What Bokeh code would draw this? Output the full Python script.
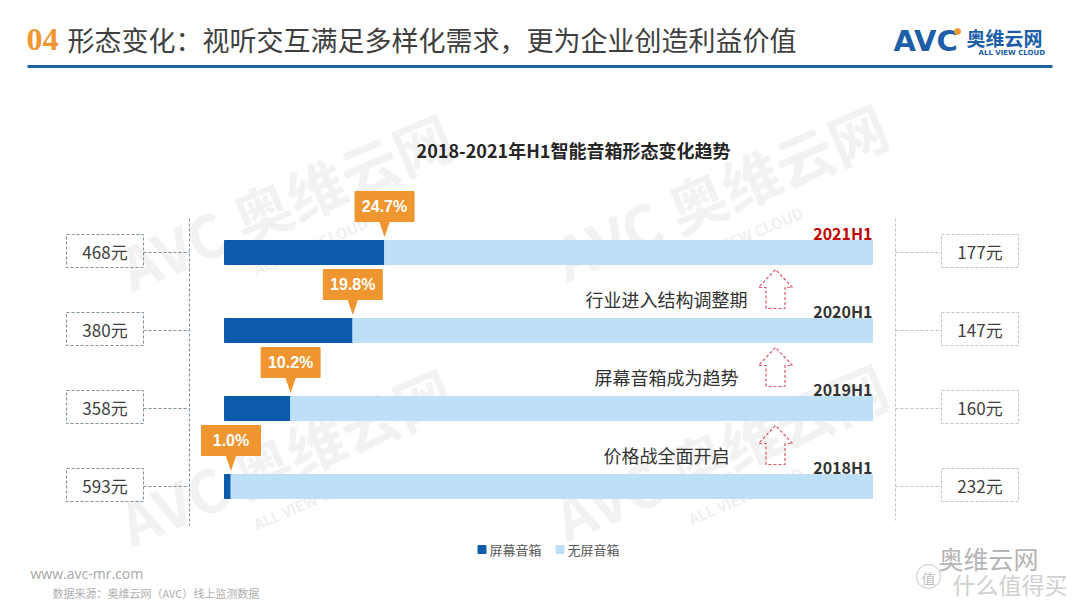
from bokeh.plotting import figure
from bokeh.models import Range1d
from bokeh.core.properties import value
from bokeh.embed import file_html
from bokeh.resources import INLINE

# ---------------- data ----------------
years = ["2018H1", "2019H1", "2020H1", "2021H1"]
screen_share = [1.0, 10.2, 19.8, 24.7]          # 屏幕音箱 share (%)
screen_price = [593, 358, 380, 468]             # left boxes (元)
noscreen_price = [232, 160, 147, 177]           # right boxes (元)
notes = ["价格战全面开启", "屏幕音箱成为趋势", "行业进入结构调整期"]
legend_labels = ["屏幕音箱", "无屏音箱"]
chart_title = "2018-2021年H1智能音箱形态变化趋势"
header_num = "04"
header_title = "形态变化：视听交互满足多样化需求，更为企业创造利益价值"
site = "www.avc-mr.com"
source = "数据来源：奥维云网（AVC）线上监测数据"

DARK = "#0D5CAB"
LIGHT = "#BEDFF8"
ORANGE = "#EF9630"
FONT = value("Noto Sans CJK SC")

W, H = 1080, 608
OFF = 0  # canvas origin on the page
BAR_X0, BAR_X1 = 224, 872
PXU = (BAR_X1 - BAR_X0) / 100.0
ROW0_Y, ROW_STEP = 486, 78


def X(px):
    return (px - BAR_X0) / PXU


def Y(py):
    return (ROW0_Y - py) / ROW_STEP


def DX(px):
    return px / PXU


def DY(px):
    return px / ROW_STEP


p = figure(width=W, height=H, x_range=Range1d(X(OFF), X(OFF + W)), y_range=Range1d(Y(OFF + H), Y(OFF)),
           output_backend="svg", toolbar_location=None, x_axis_type=None, y_axis_type=None,
           min_border=0, outline_line_color=None)
p.grid.visible = False
p.background_fill_color = "white"
p.border_fill_color = "white"


def txt(x, y, s, size, color, align="left", bold=False, font=FONT, angle=0, alpha=1.0, baseline="middle"):
    p.text(x=[x], y=[y], text=[s], text_font=font, text_font_size=f"{size}px", text_color=color,
           text_align=align, text_baseline=baseline, text_font_style="bold" if bold else "normal",
           angle=angle, text_alpha=alpha)


# faint background watermarks
for cx, cy in [(285, 200), (720, 190), (285, 455), (720, 450)]:
    txt(X(cx), Y(cy), "AVC 奥维云网", 58, "#F2F2F2", align="center", bold=True, angle=0.4)
    txt(X(cx + 25), Y(cy + 45), "ALL VIEW CLOUD", 15, "#F0F0F0", align="center", bold=True, angle=0.4)

idx = list(range(len(years)))

# ---------------- header ----------------
txt(X(26), Y(39), header_num, 32, ORANGE, bold=True, font=value("Liberation Sans Narrow"))
txt(X(67), Y(39), header_title, 27, "#3F3F3F")
p.segment(x0=[X(27)], y0=[Y(66)], x1=[X(1052)], y1=[Y(66)], line_color="#1F62A6", line_width=3)
# logo
txt(X(893), Y(40), "AVC", 29, "#1C5EA8", bold=True, font=value("DejaVu Sans"))
p.scatter(x=[X(957)], y=[Y(31)], size=6, color=ORANGE)
txt(X(966), Y(37), "奥维云网", 19, "#1C5EA8", bold=True)
txt(X(978), Y(52), "ALL VIEW CLOUD", 7, "#1C5EA8", bold=True, font=value("DejaVu Sans"))

# chart title
txt(X(573), Y(149), chart_title, 18, "#262626", align="center", bold=True)

# ---------------- bars ----------------
p.hbar(y=idx, left=0, right=screen_share, height=DY(24), color=DARK)
p.hbar(y=idx, left=screen_share, right=100, height=DY(24), color=LIGHT)

# year labels
p.text(x=[100] * len(years), y=[i + DY(20) for i in idx], text=years, text_font=FONT,
       text_font_size="16px", text_font_style="bold", text_align="right", text_baseline="middle",
       text_color=["#333333", "#333333", "#333333", "#C00000"])

# callouts
p.patches(xs=[[s - DX(5.5), s + DX(5.5), s] for s in screen_share],
          ys=[[i + DY(31.5), i + DY(31.5), i + DY(15.5)] for i in idx], color=ORANGE, line_width=0)
p.rect(x=screen_share, y=[i + DY(46) for i in idx], width=DX(59), height=DY(30), color=ORANGE)
p.text(x=screen_share, y=[i + DY(46) for i in idx], text=[f"{s:.1f}%" for s in screen_share],
       text_font=value("Liberation Sans"), text_font_size="16px", text_font_style="bold",
       text_color="white", text_align="center", text_baseline="middle")

# notes and dashed arrows
ni = idx[:len(notes)]
p.text(x=[X(666)] * len(notes), y=[i + DY(32) for i in ni], text=notes, text_font=FONT,
       text_font_size="18px", text_color="#333333", text_align="center", text_baseline="middle")
ax = 775
p.patches(xs=[[X(ax - 9.5), X(ax - 9.5), X(ax - 17), X(ax), X(ax + 17), X(ax + 9.5), X(ax + 9.5)] for i in ni],
          ys=[[i + DY(22), i + DY(43), i + DY(43), i + DY(61), i + DY(43), i + DY(43), i + DY(22)] for i in ni],
          fill_alpha=0, line_color="#DD5566", line_dash="3 2", line_width=1.2)

# ---------------- price boxes ----------------
GRAYL = "#7E8F9C"
GRAYR = "#B9C6CE"
p.segment(x0=[X(189)], y0=[Y(218)], x1=[X(189)], y1=[Y(525)], line_color=GRAYL, line_dash="3 2", line_width=1)
p.segment(x0=[X(143)] * 4, y0=idx, x1=[X(189)] * 4, y1=idx, line_color=GRAYL, line_dash="3 2", line_width=1)
p.rect(x=[X(104.5)] * 4, y=[i + DY(1.5) for i in idx], width=DX(77), height=DY(33), fill_alpha=0,
       line_color=GRAYL, line_dash="3 2", line_width=1)
p.text(x=[X(104.5)] * 4, y=[i + DY(1) for i in idx], text=[f"{v}元" for v in screen_price], text_font=FONT,
       text_font_size="17px", text_color="#404040", text_align="center", text_baseline="middle")

p.segment(x0=[X(895)], y0=[Y(218)], x1=[X(895)], y1=[Y(520)], line_color=GRAYR, line_dash="3 2", line_width=1)
p.segment(x0=[X(895)] * 4, y0=idx, x1=[X(941)] * 4, y1=idx, line_color=GRAYR, line_dash="3 2", line_width=1)
p.rect(x=[X(979.5)] * 4, y=[i + DY(1.5) for i in idx], width=DX(77), height=DY(33), fill_alpha=0,
       line_color=GRAYR, line_dash="3 2", line_width=1)
p.text(x=[X(979.5)] * 4, y=[i + DY(1) for i in idx], text=[f"{v}元" for v in noscreen_price], text_font=FONT,
       text_font_size="17px", text_color="#404040", text_align="center", text_baseline="middle")

# ---------------- legend ----------------
p.rect(x=[X(481.5), X(559.5)], y=[Y(549)] * 2, width=DX(8), height=DY(8), color=[DARK, LIGHT])
p.text(x=[X(489), X(567)], y=[Y(549)] * 2, text=legend_labels, text_font=FONT, text_font_size="13px",
       text_color="#595959", text_align="left", text_baseline="middle")

# ---------------- footer ----------------
txt(X(30), Y(573), site, 14, "#A6A6A6", font=value("Open Sans"))
txt(X(52), Y(592), source, 11, "#B0B0B0")
# corner watermark
txt(X(938), Y(557), "奥维云网", 25, "#B5B5B5")
p.scatter(x=[X(928)], y=[Y(576)], size=24, fill_alpha=0, line_color="#C8C8C8")
txt(X(928), Y(577), "值", 14, "#BEBEBE", align="center")
txt(X(952), Y(583), "什么值得买", 23, "#D0D0D0")

open("out.html", "w").write(file_html(p, INLINE))
